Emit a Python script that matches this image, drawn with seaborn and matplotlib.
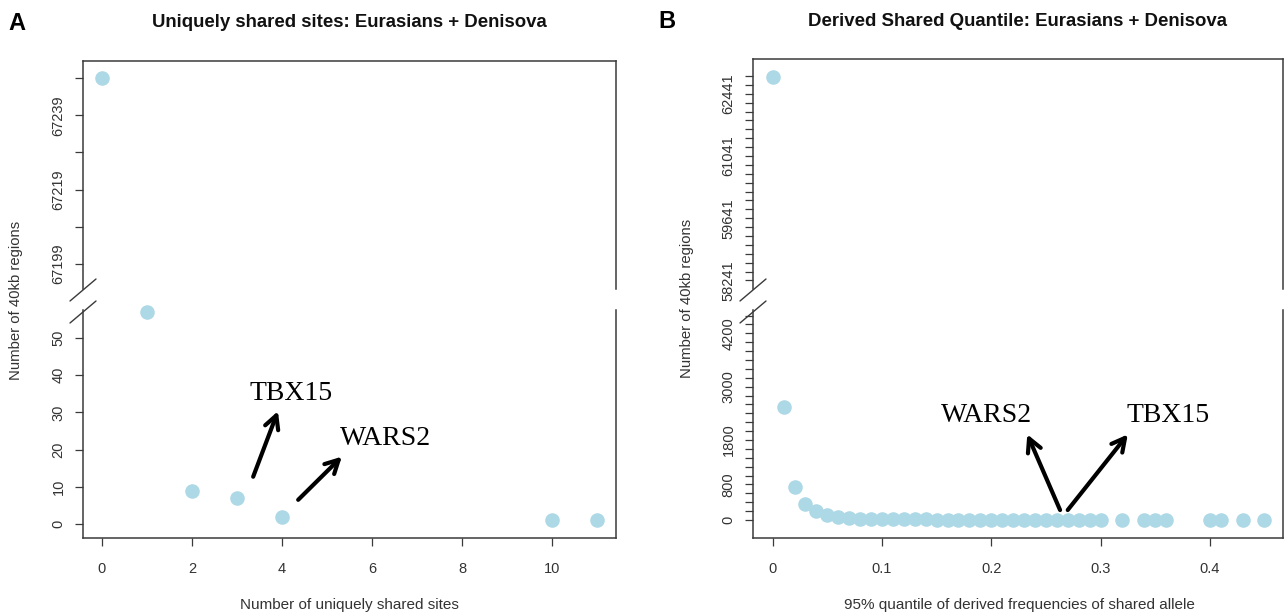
import matplotlib
matplotlib.use("Agg")
import matplotlib.pyplot as plt
from matplotlib import font_manager
from matplotlib.lines import Line2D
import seaborn as sns
import pandas as pd

# ---------------- data ----------------
a_sites = [0, 1, 2, 3, 4, 10, 11]
a_regions = [67249, 57, 9, 7, 2, 1, 1]

b_quantile = [0.00, 0.01, 0.02, 0.03, 0.04, 0.05, 0.06, 0.07, 0.08, 0.09,
              0.10, 0.11, 0.12, 0.13, 0.14, 0.15, 0.16, 0.17, 0.18, 0.19,
              0.20, 0.21, 0.22, 0.23, 0.24, 0.25, 0.26, 0.27, 0.28, 0.29,
              0.30, 0.32, 0.34, 0.35, 0.36, 0.40, 0.41, 0.43, 0.45]
b_regions = [62820, 2550, 740, 350, 210, 115, 62, 40, 30, 25,
             20, 18, 16, 14, 12, 11, 10, 9, 8, 8,
             7, 7, 6, 6, 5, 5, 4, 4, 3, 3,
             3, 2, 2, 1, 1, 1, 1, 1, 1]

a_gap = 60          # values above this go to the upper segment
b_gap = 5000

a_xticks = [0, 2, 4, 6, 8, 10]
a_low_ticks = [0, 10, 20, 30, 40, 50]
a_low_labels = ["0", "10", "20", "30", "40", "50"]
a_high_ticks = [67199, 67209, 67219, 67229, 67239, 67249]
a_high_labels = ["67199", "", "67219", "", "67239", ""]

b_xticks = [0, 0.1, 0.2, 0.3, 0.4]
b_xticklabels = ["0", "0.1", "0.2", "0.3", "0.4"]
b_low_labelled = {0: "0", 800: "800", 1800: "1800", 3000: "3000", 4200: "4200"}
b_high_labelled = {58241: "58241", 59641: "59641", 61041: "61041", 62441: "62441"}

title_a = "Uniquely shared sites: Eurasians + Denisova"
title_b = "Derived Shared Quantile: Eurasians + Denisova"
xlabel_a = "Number of uniquely shared sites"
xlabel_b = "95% quantile of derived frequencies of shared allele"
ylabel = "Number of 40kb regions"

# ---------------- style ----------------
sns.set_style("white")
names = {f.name for f in font_manager.fontManager.ttflist}
sans = "Liberation Sans Narrow" if "Liberation Sans Narrow" in names else "Liberation Sans"
plt.rcParams["font.family"] = [sans, "DejaVu Sans"]

W, H = 1285, 614
fig = plt.figure(figsize=(W / 100, H / 100), dpi=100)


def box(left, top, right, bottom):
    return [left / W, 1 - bottom / H, (right - left) / W, (bottom - top) / H]


point_color = "lightblue"
frame_color = "#3a3a3a"
text_color = "#333333"
msize = 110


def style_axes(ax, upper):
    for s in ax.spines.values():
        s.set_color(frame_color)
        s.set_linewidth(1.1)
        s.set_visible(True)
    if upper:
        ax.spines["bottom"].set_visible(False)
        ax.tick_params(axis="x", bottom=False, labelbottom=False)
    else:
        ax.spines["top"].set_visible(False)
    ax.tick_params(axis="y", left=True, direction="out", length=5.5, width=0.9,
                   color=frame_color, labelsize=10.5, labelcolor=text_color,
                   labelrotation=90, pad=7)
    for lab in ax.get_yticklabels():
        lab.set_va("center")
    ax.set_xlabel("")
    ax.set_ylabel("")


def breaks(xspine, y1, y2):
    for yc in (y1, y2):
        fig.add_artist(Line2D([(xspine - 13) / W, (xspine + 13) / W],
                              [1 - (yc + 11) / H, 1 - (yc - 11) / H],
                              transform=fig.transFigure, color=frame_color, lw=1.0))


# ---------------- panel A ----------------
dfa = pd.DataFrame({"sites": a_sites, "regions": a_regions})
axA_hi = fig.add_axes(box(83, 61, 616, 289))
axA_lo = fig.add_axes(box(83, 310, 616, 538))
sns.scatterplot(data=dfa[dfa.regions > a_gap], x="sites", y="regions", ax=axA_hi,
                color=point_color, s=msize, linewidth=0, clip_on=False)
sns.scatterplot(data=dfa[dfa.regions <= a_gap], x="sites", y="regions", ax=axA_lo,
                color=point_color, s=msize, linewidth=0, clip_on=False)
for ax in (axA_hi, axA_lo):
    ax.set_xlim(-0.42, 11.42)
axA_hi.set_ylim(67192.3, 67253.6)
axA_lo.set_ylim(-3.76, 57.5)
axA_hi.set_yticks(a_high_ticks, a_high_labels)
axA_lo.set_yticks(a_low_ticks, a_low_labels)
axA_lo.set_xticks(a_xticks, [str(t) for t in a_xticks])
style_axes(axA_hi, True)
style_axes(axA_lo, False)
axA_lo.tick_params(axis="x", bottom=True, direction="out", length=6, width=0.9,
                   color=frame_color, labelsize=10.5, labelcolor=text_color, pad=11)
axA_hi.set_title(title_a, fontsize=13.4, fontweight="bold", y=1.167, pad=0,
                 va="center", color="#111111")
axA_lo.set_xlabel(xlabel_a, fontsize=11, color=text_color)
axA_lo.xaxis.set_label_coords(0.5, -0.294)
axA_lo.xaxis.label.set_va("center")
axA_lo.set_ylabel(ylabel, fontsize=10.7, color=text_color)
axA_lo.yaxis.set_label_coords(-0.126, 1.04)
axA_lo.yaxis.label.set_va("center")
breaks(83, 290, 312)

arrow_kw = dict(arrowstyle="->,head_length=0.95,head_width=0.5", lw=3.0, color="black",
                shrinkA=0, shrinkB=0)
serif = ["Liberation Serif", "DejaVu Serif"]
axA_lo.annotate("", xy=(3.91, 30.3), xytext=(3.36, 12.7), arrowprops=arrow_kw)
axA_lo.annotate("", xy=(5.33, 18.1), xytext=(4.36, 6.5), arrowprops=arrow_kw)
axA_lo.text(4.2, 35.1, "TBX15", family=serif, fontsize=20, ha="center", va="center",
            color="black")
axA_lo.text(6.31, 23.0, "WARS2", family=serif, fontsize=20, ha="center", va="center",
            color="black")

# ---------------- panel B ----------------
dfb = pd.DataFrame({"quantile": b_quantile, "regions": b_regions})
axB_hi = fig.add_axes(box(753, 59, 1283, 289))
axB_lo = fig.add_axes(box(753, 310, 1283, 538))
sns.scatterplot(data=dfb[dfb.regions > b_gap], x="quantile", y="regions", ax=axB_hi,
                color=point_color, s=msize, linewidth=0, clip_on=False)
sns.scatterplot(data=dfb[dfb.regions <= b_gap], x="quantile", y="regions", ax=axB_lo,
                color=point_color, s=msize, linewidth=0, clip_on=False)
for ax in (axB_hi, axB_lo):
    ax.set_xlim(-0.018, 0.467)
axB_hi.set_ylim(58048, 63223)
axB_lo.set_ylim(-405, 4725)
hi_ticks = list(range(58241, 62842, 200))
lo_ticks = list(range(0, 4601, 200))
axB_hi.set_yticks(hi_ticks, [b_high_labelled.get(t, "") for t in hi_ticks])
axB_lo.set_yticks(lo_ticks, [b_low_labelled.get(t, "") for t in lo_ticks])
axB_lo.set_xticks(b_xticks, b_xticklabels)
style_axes(axB_hi, True)
style_axes(axB_lo, False)
axB_lo.tick_params(axis="x", bottom=True, direction="out", length=6, width=0.9,
                   color=frame_color, labelsize=10.5, labelcolor=text_color, pad=11)
axB_hi.set_title(title_b, fontsize=13.4, fontweight="bold", y=1.161, pad=0,
                 va="center", color="#111111")
axB_lo.set_xlabel(xlabel_b, fontsize=11, color=text_color)
axB_lo.xaxis.set_label_coords(0.502, -0.294)
axB_lo.xaxis.label.set_va("center")
axB_lo.set_ylabel(ylabel, fontsize=10.7, color=text_color)
axB_lo.yaxis.set_label_coords(-0.125, 1.05)
axB_lo.yaxis.label.set_va("center")
breaks(753, 290, 312)

axB_lo.annotate("", xy=(0.233, 1926), xytext=(0.263, 224), arrowprops=arrow_kw)
axB_lo.annotate("", xy=(0.325, 1926), xytext=(0.270, 224), arrowprops=arrow_kw)
axB_lo.text(0.196, 2352, "WARS2", family=serif, fontsize=20, ha="center", va="center",
            color="black")
axB_lo.text(0.362, 2352, "TBX15", family=serif, fontsize=20, ha="center", va="center",
            color="black")

# panel letters
fig.text(17 / W, 1 - 23 / H, "A", fontsize=17, fontweight="bold", ha="center", va="center",
         color="black")
fig.text(667 / W, 1 - 22 / H, "B", fontsize=17, fontweight="bold", ha="center", va="center",
         color="black")

fig.savefig("out.png", dpi=100)
